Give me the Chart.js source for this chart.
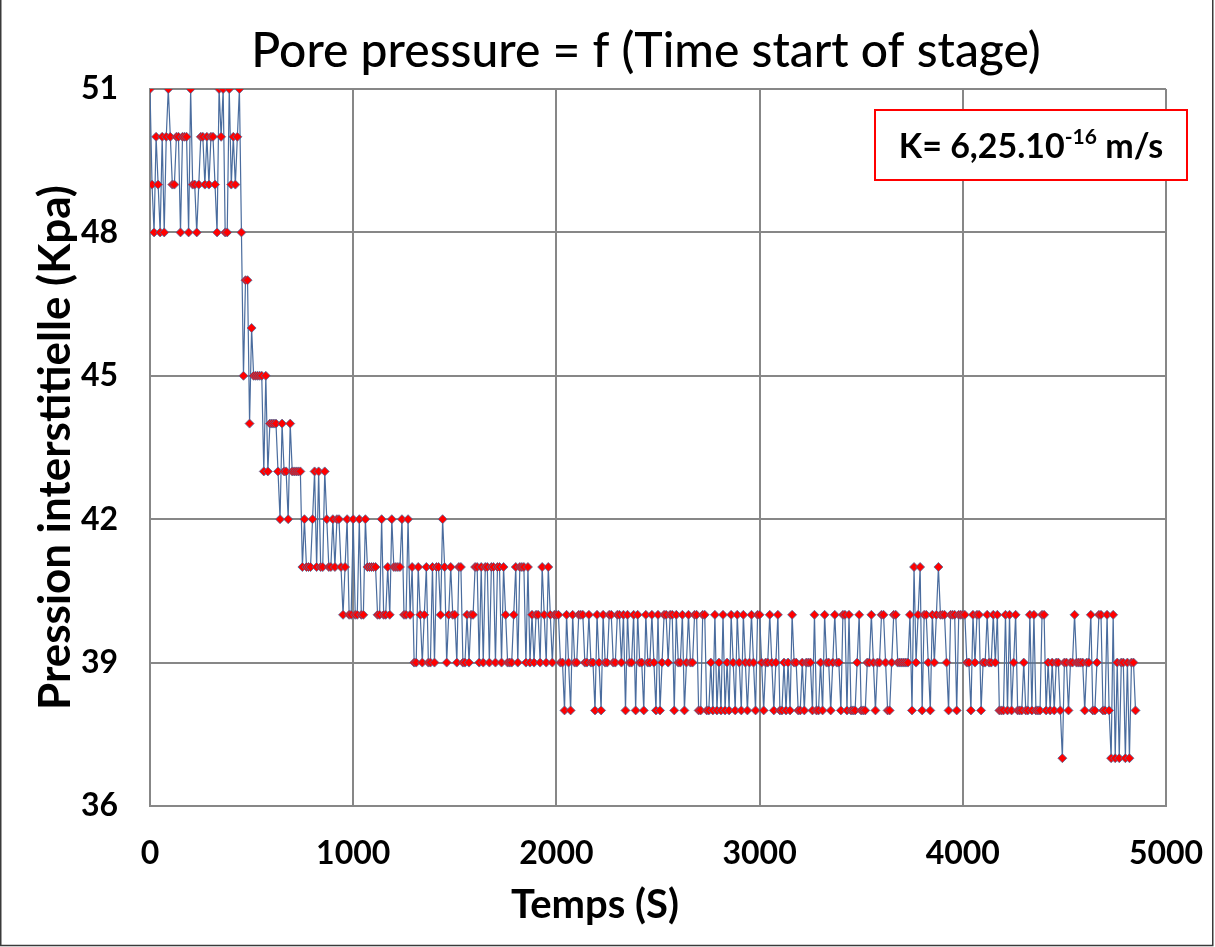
<!DOCTYPE html>
<html>
<head>
<meta charset="utf-8">
<script src="https://cdn.jsdelivr.net/npm/chart.js@4/dist/chart.umd.min.js"></script>
<style>
    html, body { margin: 0; padding: 0; background: #ffffff; }
    #wrap { width: 1215px; height: 947px; }
</style>
</head>
<body>
<div id="wrap"><canvas id="pore-chart" width="1215" height="947"></canvas></div>
<script>
// readings are logged every 10 s, starting at t = 0
const sampleStep = 10;

const porePressure = [
    51, 49, 48, 50, 49, 48, 50, 48, 50, 51,
    50, 49, 49, 50, 50, 48, 50, 50, 50, 48,
    51, 49, 49, 48, 49, 50, 50, 49, 50, 49,
    50, 50, 49, 48, 51, 50, 51, 48, 48, 51,
    49, 50, 49, 50, 51, 48, 45, 47, 47, 44,
    46, 45, 45, 45, 45, 45, 43, 45, 43, 44,
    44, 44, 44, 43, 42, 44, 43, 43, 42, 44,
    43, 43, 43, 43, 43, 41, 42, 41, 41, 41,
    42, 43, 41, 43, 41, 41, 43, 42, 41, 41,
    42, 41, 42, 42, 41, 40, 41, 42, 40, 40,
    42, 40, 40, 42, 40, 40, 42, 41, 41, 41,
    41, 41, 40, 40, 42, 40, 40, 41, 40, 42,
    41, 41, 41, 41, 42, 40, 40, 42, 40, 41,
    39, 39, 41, 40, 39, 40, 41, 39, 39, 41,
    39, 41, 41, 40, 42, 41, 39, 40, 41, 40,
    40, 39, 41, 41, 39, 39, 40, 39, 40, 40,
    41, 41, 39, 41, 39, 41, 41, 39, 41, 41,
    39, 41, 41, 39, 41, 40, 39, 39, 39, 40,
    41, 39, 41, 41, 41, 39, 41, 39, 40, 39,
    40, 40, 39, 41, 40, 39, 41, 40, 39, 40,
    40, 40, 39, 39, 38, 40, 39, 38, 40, 39,
    39, 40, 40, 40, 39, 39, 40, 39, 39, 38,
    40, 39, 38, 40, 39, 39, 40, 40, 39, 39,
    40, 40, 39, 40, 38, 40, 39, 39, 40, 38,
    40, 39, 39, 38, 40, 39, 39, 40, 39, 38,
    40, 38, 39, 40, 40, 39, 40, 40, 38, 40,
    39, 39, 40, 38, 39, 40, 39, 39, 40, 40,
    38, 38, 40, 40, 38, 38, 39, 38, 40, 38,
    39, 38, 40, 38, 39, 38, 40, 39, 38, 40,
    39, 38, 40, 39, 38, 39, 40, 39, 38, 40,
    40, 39, 38, 39, 39, 40, 39, 38, 39, 40,
    38, 38, 39, 38, 39, 38, 40, 39, 39, 38,
    38, 39, 38, 39, 39, 39, 38, 40, 38, 38,
    39, 38, 40, 39, 39, 38, 39, 40, 39, 39,
    38, 40, 40, 38, 40, 38, 38, 38, 39, 40,
    38, 38, 38, 39, 39, 40, 39, 38, 39, 39,
    40, 40, 39, 38, 38, 39, 40, 40, 39, 39,
    39, 39, 39, 39, 40, 38, 41, 39, 40, 41,
    38, 40, 40, 39, 38, 40, 39, 40, 41, 40,
    40, 40, 39, 38, 40, 40, 40, 38, 40, 40,
    40, 40, 39, 39, 38, 40, 39, 40, 40, 38,
    39, 39, 40, 39, 39, 40, 39, 40, 38, 38,
    38, 40, 38, 40, 38, 39, 40, 38, 38, 38,
    39, 38, 38, 40, 38, 40, 38, 38, 38, 40,
    40, 38, 39, 38, 39, 38, 39, 39, 38, 37,
    39, 39, 38, 39, 39, 40, 39, 39, 39, 39,
    38, 39, 39, 40, 38, 38, 39, 40, 40, 38,
    38, 40, 38, 37, 40, 37, 39, 37, 39, 39,
    37, 39, 37, 39, 39, 38
];

const xTicks = [0, 1000, 2000, 3000, 4000, 5000];
const yTicks = [36, 39, 42, 45, 48, 51];

const chartTitle = "Pore pressure = f (Time start of stage)";
const xTitle = "Temps (S)";
const yTitle = "Pression interstitielle (Kpa)";
const noteMain = "K= 6,25.10";
const noteExp = "-16";
const noteUnit = " m/s";

const gridColor = "#878787";
const fontFamily = "Lato, 'Open Sans', sans-serif";

const chartData = porePressure.map((p, i) => ({x: i * sampleStep, y: p}));

// white page, frame, titles placed like the Excel original, and the red K note box
const framePlugin = {
    id: "frame",
    beforeDraw(chart) {
        const ctx = chart.ctx;
        ctx.save();
        ctx.fillStyle = "#ffffff";
        ctx.fillRect(0, 0, chart.width, chart.height);
        ctx.restore();
    },
    afterDraw(chart) {
        const ctx = chart.ctx;
        ctx.save();
        ctx.strokeStyle = "#3a3a3a";
        ctx.lineWidth = 1.5;
        ctx.strokeRect(0.75, -2, chart.width - 3, chart.height + 0.5);

        ctx.fillStyle = "#000000";
        ctx.textAlign = "center";
        ctx.textBaseline = "middle";
        ctx.font = "500 48px " + fontFamily;
        ctx.fillText(chartTitle, 646, 52);
        ctx.font = "bold 40px " + fontFamily;
        ctx.fillText(xTitle, 595, 905);

        // note box
        const bx = 875, by = 110, bw = 312, bh = 70;
        ctx.fillStyle = "#ffffff";
        ctx.fillRect(bx, by, bw, bh);
        ctx.strokeStyle = "#ff0000";
        ctx.lineWidth = 2;
        ctx.strokeRect(bx, by, bw, bh);

        ctx.fillStyle = "#000000";
        ctx.textAlign = "left";
        ctx.textBaseline = "alphabetic";
        ctx.font = "bold 34px " + fontFamily;
        const w1 = ctx.measureText(noteMain).width;
        ctx.font = "bold 21px " + fontFamily;
        const w2 = ctx.measureText(noteExp).width;
        ctx.font = "bold 34px " + fontFamily;
        const w3 = ctx.measureText(noteUnit).width;
        let x = bx + (bw - (w1 + w2 + w3)) / 2;
        const base = by + 48;
        ctx.fillText(noteMain, x, base);
        x += w1;
        ctx.font = "bold 21px " + fontFamily;
        ctx.fillText(noteExp, x, base - 14);
        x += w2;
        ctx.font = "bold 34px " + fontFamily;
        ctx.fillText(noteUnit, x, base);
        ctx.restore();
    }
};

new Chart(document.getElementById("pore-chart").getContext("2d"), {
    type: "line",
    data: {
        datasets: [{
            label: "Pore pressure",
            data: chartData,
            borderColor: "#4a6c9e",
            borderWidth: 1.2,
            pointStyle: "rectRot",
            pointRadius: 4.5,
            pointBackgroundColor: "#ff0000",
            pointBorderColor: "#4a6c9e",
            pointBorderWidth: 0.8,
            tension: 0
        }]
    },
    options: {
        responsive: false,
        animation: false,
        layout: {
            padding: {left: 0, right: 49, top: 89, bottom: 11}
        },
        plugins: {
            legend: {display: false},
            tooltip: {enabled: false},
            title: {display: false}
        },
        scales: {
            x: {
                type: "linear",
                min: 0,
                max: 5000,
                afterBuildTicks(axis) {
                    axis.ticks = xTicks.map(v => ({value: v}));
                },
                afterFit(axis) {
                    axis.height = 130;
                    // the "5000" label may hang past the plot, as in the original
                    axis.paddingLeft = 0;
                    axis.paddingRight = 0;
                },
                grid: {
                    color: gridColor,
                    lineWidth: 2,
                    tickLength: 0
                },
                border: {color: gridColor, width: 2},
                ticks: {
                    color: "#000000",
                    padding: 28,
                    maxRotation: 0,
                    callback: v => String(v),
                    font: {family: fontFamily, size: 32, weight: "bold"}
                },
                title: {display: false}
            },
            y: {
                type: "linear",
                min: 36,
                max: 51,
                afterBuildTicks(axis) {
                    axis.ticks = yTicks.map(v => ({value: v}));
                },
                afterFit(axis) {
                    axis.width = 150;
                },
                grid: {
                    color: gridColor,
                    lineWidth: 2,
                    tickLength: 0
                },
                border: {color: gridColor, width: 2},
                ticks: {
                    color: "#000000",
                    padding: 32,
                    callback: v => String(v),
                    font: {family: fontFamily, size: 32, weight: "bold"}
                },
                title: {
                    display: true,
                    text: yTitle,
                    color: "#000000",
                    font: {family: fontFamily, size: 44, weight: "bold", lineHeight: 1.2},
                    padding: {top: 29, bottom: 0}
                }
            }
        }
    },
    plugins: [framePlugin]
});
</script>
</body>
</html>
